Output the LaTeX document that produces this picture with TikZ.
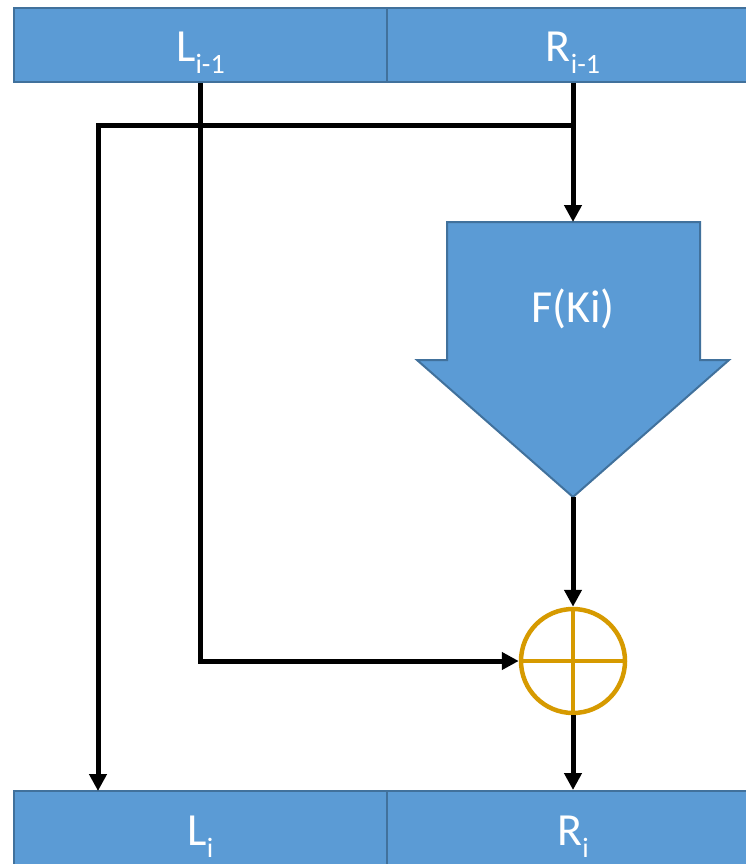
\documentclass[tikz,border=0pt]{standalone}
\usepackage{fontspec}
\setmainfont{Carlito}
\usetikzlibrary{arrows.meta}
\definecolor{boxfill}{HTML}{5B9BD5}
\definecolor{boxline}{HTML}{41719C}
\definecolor{xorcol}{HTML}{D69A00}
\newcommand{\sublbl}[2]{#1\raisebox{-12pt}{\fontsize{28}{28}\selectfont #2}}
\tikzset{
  cell/.style={draw=boxline, fill=boxfill, line width=2pt, rectangle,
    minimum height=74pt, inner sep=0pt, text=white,
    text height=34pt, text depth=0pt,
    font=\fontsize{46}{46}\selectfont},
  conn/.style={line width=5pt, draw=black,
    -{Triangle[length=17pt,width=17pt]}},
  fshape/.style={draw=boxline, fill=boxfill, line width=2pt, line join=miter},
  xorstyle/.style={circle, draw=xorcol, line width=4.5pt, minimum size=104pt, inner sep=0pt}
}
\begin{document}
\begin{tikzpicture}[x=1pt,y=-1pt]
\useasboundingbox (0,0) rectangle (746,864);
\clip (0,0) rectangle (746,864);
% top and bottom registers
\node[cell, minimum width=373pt] (Lprev) at (200.5,45) {\sublbl{L}{i-1}};
\node[cell, minimum width=372pt] (Rprev) at (573,45) {\sublbl{R}{i-1}};
\node[cell, minimum width=373pt] (Lnext) at (200.5,828) {\sublbl{L}{i}};
\node[cell, minimum width=372pt] (Rnext) at (573,828) {\sublbl{R}{i}};
% F function arrow shape
\draw[fshape] (447,222) -- (700,222) -- (700,360) -- (729,360) -- (573,497)
  -- (417,360) -- (447,360) -- cycle;
\coordinate (Ftop) at (573,222);
\coordinate (Ftip) at (573,497);
\node[text=white, font=\fontsize{46}{46}\selectfont, anchor=base, inner sep=0pt] (F) at (573,322) {F(Ki)};
% XOR
\node[xorstyle] (xor) at (573,661) {};
\draw[draw=xorcol, line width=4pt] ([yshift=52pt]xor.center) -- ([yshift=-52pt]xor.center);
\draw[draw=xorcol, line width=4pt] ([xshift=-52pt]xor.center) -- ([xshift=52pt]xor.center);
% connectors
\coordinate (br) at (573,126);
\coordinate (Ltgt) at (98,791);
\draw[conn] (Rprev.south) -- (Ftop);
\draw[conn] (br) -| (Ltgt);
\draw[conn] (Lprev.south) |- (xor.west);
\draw[conn] (Ftip) -- (xor.north);
\draw[conn] (xor.south) -- (Rnext.north);
\end{tikzpicture}
\end{document}
